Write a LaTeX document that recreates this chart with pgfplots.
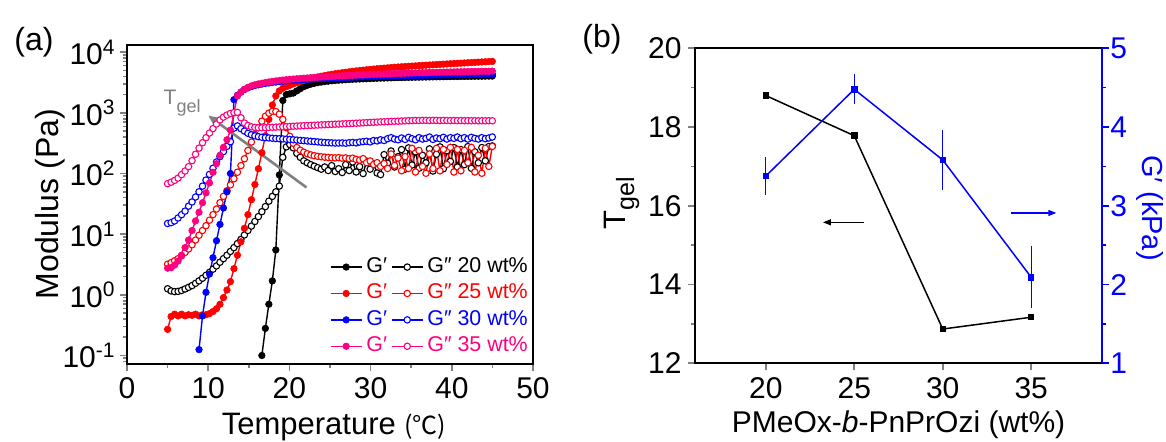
\documentclass[border=0pt]{standalone}
\usepackage{fontspec}
\setmainfont{Liberation Sans}
\newfontfamily\cjk{Noto Sans CJK SC}
\usepackage{pgfplots}
\pgfplotsset{compat=1.18}
\usepackage{pgfplotstable}
\usetikzlibrary{arrows.meta}
\definecolor{pinkc}{RGB}{255,0,128}
\definecolor{grayc}{RGB}{128,128,128}
\pgfplotstableread{
T a b c d e f g h
5.00 nan 1.26 0.27 3.2 nan 15 2.75 68
5.43 nan 1.16 0.44 3.4 nan 15.5 2.8 72
5.86 nan 1.13 0.48 3.65 nan 16.5 3.1 77
6.29 nan 1.14 0.45 3.95 nan 18.5 3.6 84
6.72 nan 1.18 0.48 4.4 nan 21 4.5 96
7.15 nan 1.25 0.45 5.0 nan 24 6.0 110
7.58 nan 1.33 0.47 5.7 nan 29 8.0 130
8.01 nan 1.42 0.46 6.7 nan 34 11.5 163
8.44 nan 1.55 0.48 8.0 nan 41 16.5 208
8.87 nan 1.70 0.45 9.6 0.125 50 23 262
9.30 nan 1.88 0.47 11.5 0.45 62 33 322
9.73 nan 2.10 0.47 13.8 1.10 78 48 390
10.16 nan 2.35 0.49 17 2.2 97 70 465
10.59 nan 2.65 0.53 21 4.1 122 105 550
11.02 nan 3.0 0.59 26 7.8 155 145 655
11.45 nan 3.45 0.70 33 14.5 190 200 765
11.88 nan 3.95 0.90 42 27 230 270 850
12.31 nan 4.5 1.20 52 50 280 360 920
12.74 nan 5.2 1.65 65 100 335 520 980
13.17 nan 6.0 2.7 82 1650 560 1000 1010
13.60 nan 7.0 4.5 105 1950 610 1900 1020
14.03 nan 8.2 7.5 135 2200 550 2200 830
14.46 nan 9.7 12.5 175 2420 500 2450 680
14.89 nan 11.5 21 240 2580 460 2630 620
15.32 nan 13.6 37 330 2710 435 2780 590
15.75 nan 16.2 66 440 2820 418 2900 575
16.18 nan 19.5 120 570 2900 405 3000 568
16.61 0.10 23.5 220 730 2980 396 3080 568
17.04 0.28 28.5 420 880 3050 390 3160 570
17.47 0.70 35 780 990 3110 386 3230 574
17.90 1.70 42 1350 1060 3170 382 3300 578
18.33 5.5 50 1900 1050 3220 378 3360 582
18.76 95 62 2300 950 3270 375 3420 586
19.19 1600 185 2550 780 3320 372 3470 590
19.62 2000 275 2700 570 3360 368 3520 594
20.05 2060 300 2850 410 3400 364 3570 598
20.48 2120 265 3000 315 3440 360 3610 602
20.91 2300 215 3150 268 3475 356 3650 606
21.34 2500 185 3300 242 3510 352 3690 610
21.77 2700 162 3430 225 3545 348 3730 614
22.20 2850 150 3560 212 3575 344 3760 618
22.63 2970 140 3680 203 3605 340 3800 622
23.06 3070 132 3800 197 3635 336 3830 626
23.49 3150 125 3910 192 3660 332 3860 630
23.92 3220 118 4020 189 3685 328 3890 634
24.35 3280 128 4120 186 3710 325 3920 638
24.78 3330 112 4220 184 3735 322 3950 642
25.21 3380 135 4320 182 3760 320 3980 646
25.64 3420 108 4410 181 3780 318 4010 650
26.07 3460 120 4500 183 3800 318 4040 654
26.50 3490 104 4590 179 3820 320 4070 658
26.93 3520 140 4670 181 3840 316 4100 662
27.36 3550 112 4750 176 3860 322 4130 666
27.79 3580 155 4830 179 3880 325 4160 670
28.22 3600 106 4910 171 3900 320 4190 675
28.65 3620 130 4990 166 3915 330 4210 680
29.08 3640 100 5060 176 3930 335 4240 685
29.51 3660 160 5130 151 3945 340 4260 690
29.94 3680 118 5200 161 3960 332 4290 695
30.37 3700 145 5270 141 3975 350 4310 700
30.80 3720 102 5340 151 3990 345 4330 705
31.23 3740 96 5400 131 4005 360 4360 710
31.66 3750 205 5460 146 4020 350 4380 714
32.09 3770 148 5520 121 4035 375 4400 718
32.52 3780 235 5580 210 4050 390 4420 722
32.95 3800 128 5640 136 4065 370 4440 726
33.38 3810 190 5700 180 4080 360 4460 730
33.81 3820 248 5750 111 4095 385 4480 734
34.24 3840 118 5800 190 4110 365 4500 738
34.67 3850 265 5850 121 4120 395 4520 742
35.10 3860 138 5900 260 4130 375 4540 746
35.53 3870 228 5950 106 4140 360 4560 750
35.96 3880 122 6000 240 4150 390 4580 748
36.39 3890 200 6050 131 4160 370 4600 752
36.82 3900 150 6100 101 4170 380 4615 750
37.25 3910 255 6150 210 4180 400 4630 748
37.68 3920 110 6200 121 4190 365 4645 752
38.11 3930 208 6250 260 4200 385 4660 750
38.54 3940 275 6300 111 4210 375 4675 746
38.97 3950 120 6350 250 4220 395 4690 750
39.40 3955 238 6400 141 4230 370 4705 748
39.83 3960 158 6450 270 4240 390 4720 745
40.26 3970 268 6500 106 4250 380 4735 748
40.69 3975 128 6550 250 4260 400 4750 744
41.12 3980 248 6600 111 4270 375 4765 746
41.55 3990 140 6650 240 4280 390 4780 742
41.98 3995 278 6700 151 4290 370 4795 745
42.41 4000 122 6750 270 4300 395 4810 742
42.84 4010 228 6800 106 4310 380 4820 744
43.27 4015 150 6850 200 4320 370 4830 740
43.70 4020 268 6900 101 4330 390 4840 742
44.13 4030 162 6950 260 4340 375 4850 740
44.56 4035 278 7000 131 4350 385 4860 742
44.99 4040 285 7050 280 4360 400 4880 740
}\dataA
\pgfplotsset{
  gp/.style={color=#1, line width=0.7pt, mark=*, mark size=1.65pt,
    mark options={solid, fill=#1, draw=#1, line width=0.3pt}},
  gpp/.style={color=#1, line width=0.7pt, mark=*, mark size=1.6pt,
    mark options={solid, fill=white, draw=#1, line width=0.55pt}},
  mystyle/.style={
    scale only axis, anchor=south west,
    tick align=outside,
    major tick length=3.5pt, minor tick length=2pt,
    axis line style={line width=1pt},
    every tick/.append style={line width=0.8pt},
    /pgf/number format/assume math mode=true,
    tick label style={font=\fontsize{15}{18}\selectfont},
  },
}
\begin{document}
\begin{tikzpicture}
\useasboundingbox (0,0) rectangle (583pt,221pt);
\node[font=\fontsize{16}{19}\selectfont] at (17pt,200pt) {(a)};
\node[font=\fontsize{16}{19}\selectfont] at (301pt,201.5pt) {(b)};
% ---------------- panel (a)
\begin{axis}[mystyle,
  at={(63.5pt,39.15pt)}, width=203pt, height=159.5pt,
  xmin=0, xmax=50, ymode=log, ymin=0.0733, ymax=13300,
  xtick={0,10,20,30,40,50}, minor x tick num=1,
  ytick={0.1,1,10,100,1000,10000},
  yticklabels={10\textsuperscript{-1},10\textsuperscript{0},10\textsuperscript{1},10\textsuperscript{2},10\textsuperscript{3},10\textsuperscript{4}},
  minor ytick={0.08,0.09,0.2,0.3,0.4,0.5,0.6,0.7,0.8,0.9,2,3,4,5,6,7,8,9,20,30,40,50,60,70,80,90,200,300,400,500,600,700,800,900,2000,3000,4000,5000,6000,7000,8000,9000},
  tick pos=left,
  yticklabel style={inner xsep=2pt},
  xlabel={Temperature {\fontsize{12.5}{14}\cjk (℃)}},
  ylabel={Modulus (Pa)},
  every axis x label/.style={at={(axis description cs:0.51,-0.2204)}, anchor=base, font=\fontsize{15.5}{18}\selectfont},
  every axis y label/.style={at={(axis description cs:-0.1675,0.5)}, rotate=90, anchor=base, font=\fontsize{16}{19}\selectfont},
  legend columns=2, legend cell align=left,
  legend style={at={(axis description cs:0.998,0.012)}, anchor=south east,
    draw=none, fill=none, inner xsep=0pt, inner ysep=0pt,
    font=\fontsize{10.7}{12}\selectfont,
    nodes={inner sep=2pt, text height=0.72em, text depth=0.2em}},
  legend image code/.code={\draw[mark repeat=2,mark phase=2,#1] plot coordinates {(0pt,0pt) (7.75pt,0pt) (15.5pt,0pt)};},
]
\addplot[gp=black] table[x=T,y=a]{\dataA};
\addlegendentry{\textcolor{black}{G′}}
\addplot[gpp=black] table[x=T,y=b]{\dataA};
\addlegendentry{\textcolor{black}{G″ 20 wt\%}}
\addplot[gp=red] table[x=T,y=c]{\dataA};
\addlegendentry{\textcolor{red}{G′}}
\addplot[gpp=red] table[x=T,y=d]{\dataA};
\addlegendentry{\textcolor{red}{G″ 25 wt\%}}
\addplot[gp=blue] table[x=T,y=e]{\dataA};
\addlegendentry{\textcolor{blue}{G′}}
\addplot[gpp=blue] table[x=T,y=f]{\dataA};
\addlegendentry{\textcolor{blue}{G″ 30 wt\%}}
\addplot[gp=pinkc] table[x=T,y=g]{\dataA};
\addlegendentry{\textcolor{pinkc}{G′}}
\addplot[gpp=pinkc] table[x=T,y=h]{\dataA};
\addlegendentry{\textcolor{pinkc}{G″ 35 wt\%}}
\draw[grayc, line width=1.3pt, -{Triangle[length=6pt,width=5pt]}] (axis cs:22.1,59) -- (axis cs:10.0,904);
\node[anchor=base west, inner sep=0pt, text=grayc, font=\fontsize{10.5}{12}\selectfont] at (axis cs:4.47,1350) {T\raisebox{-3.8pt}{\fontsize{9}{11}\selectfont gel}};
\end{axis}
% ---------------- panel (b), left axis
\begin{axis}[mystyle,
  at={(347.5pt,39.35pt)}, width=203.5pt, height=157.5pt,
  xmin=16, xmax=39, ymin=12, ymax=20,
  xtick={20,25,30,35}, ytick={12,14,16,18,20}, minor y tick num=1,
  tick pos=left,
  yticklabel style={inner xsep=3pt},
  xlabel={PMeOx-\textit{b}-PnPrOzi (wt\%)},
  ylabel={T\raisebox{-4.5pt}{\fontsize{12.5}{15}\selectfont gel}},
  every axis x label/.style={at={(axis description cs:0.5,-0.221)}, anchor=base, font=\fontsize{15}{18}\selectfont},
  every axis y label/.style={at={(axis description cs:-0.172,0.509)}, rotate=90, anchor=base, font=\fontsize{15.5}{18}\selectfont},
]
\addplot[black, line width=0.75pt, mark=square*, mark size=1.25pt] coordinates {(20,18.80) (25,17.78) (30,12.87) (35,13.17)};
\draw[black, line width=0.65pt, -{Triangle[length=4pt,width=3pt]}] (axis cs:25.54,15.58) -- (axis cs:23.23,15.58);
\end{axis}
% ---------------- panel (b), right axis
\begin{axis}[mystyle,
  at={(347.5pt,39.35pt)}, width=203.5pt, height=157.5pt,
  xmin=16, xmax=39, ymin=1, ymax=5,
  axis x line=none, axis y line*=right,
  ytick={1,2,3,4,5}, minor y tick num=1,
  y axis line style={blue, line width=1pt},
  every tick/.append style={blue},
  yticklabel style={blue, inner xsep=0.5pt},
  ylabel={G′ (kPa)},
  every axis y label/.style={at={(axis description cs:1.1007,0.493)}, rotate=-90, anchor=base, text=blue, font=\fontsize{14.5}{17}\selectfont},
]
\addplot[blue, line width=0.75pt, mark=square*, mark size=1.25pt,
  error bars/.cd, y dir=both, y explicit,
  error bar style={line width=0.7pt, blue},
  error mark options={blue, line width=0.7pt, mark size=1.75pt}]
  coordinates {(20,3.378) +- (0,0.195) (25,4.479) +- (0,0.148) (30,3.582) +- (0,0.335) (35,2.092) +- (0,0.35)};
\draw[blue, line width=0.65pt, -{Triangle[length=4pt,width=3pt]}] (axis cs:33.83,2.909) -- (axis cs:36.42,2.909);
\end{axis}
\end{tikzpicture}
\end{document}
